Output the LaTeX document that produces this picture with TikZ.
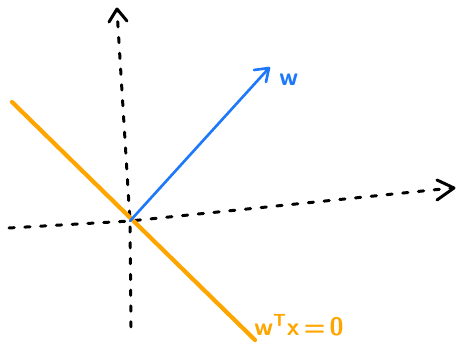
\documentclass[tikz,border=0pt]{standalone}
\usetikzlibrary{arrows.meta}
\definecolor{worange}{RGB}{255,165,0}
\definecolor{wblue}{RGB}{30,120,250}
\tikzset{
  axisline/.style={black, line width=1.7pt, dash pattern=on 3pt off 6pt, line cap=round},
  axisarrow/.style={black, line width=1.7pt, line cap=round, line join=round},
  vecline/.style={wblue, line width=1.5pt, line cap=round},
  planeline/.style={worange, line width=2.4pt, line cap=round},
  lbl/.style={inner sep=0pt, font=\Large\sffamily\bfseries}
}
\begin{document}
\begin{tikzpicture}[x=0.02cm, y=-0.02cm]
\useasboundingbox (0,0) rectangle (458,347);
\coordinate (o) at (130,221);
\coordinate (xl) at (9,228);
\coordinate (xr) at (452,188);
\coordinate (yb) at (131,327);
\coordinate (yt) at (117,10);
\coordinate (wt) at (269,68);
\coordinate (pl) at (12,102);
\coordinate (pr) at (255,340);
% axes
\draw[axisline] (xl) -- (o) -- (xr);
\draw[axisline] (yb) -- (o) -- (yt);
\draw[axisarrow] (437,180) -- (454,188) -- (437,200);
\draw[axisarrow] (109,22) -- (117,9) -- (127,21);
% plane
\draw[planeline] (pl) -- (pr);
% vector
\draw[vecline] (o) -- (wt);
\draw[vecline, line join=round] (254,70) -- (269,68) -- (266,82);
\node[lbl, text=wblue, anchor=west] (wl) at (279,80) {w};
\node[lbl, text=worange, anchor=west] (pll) at (254,325) {w\textsuperscript{T}x\,=\,0};
\end{tikzpicture}
\end{document}
